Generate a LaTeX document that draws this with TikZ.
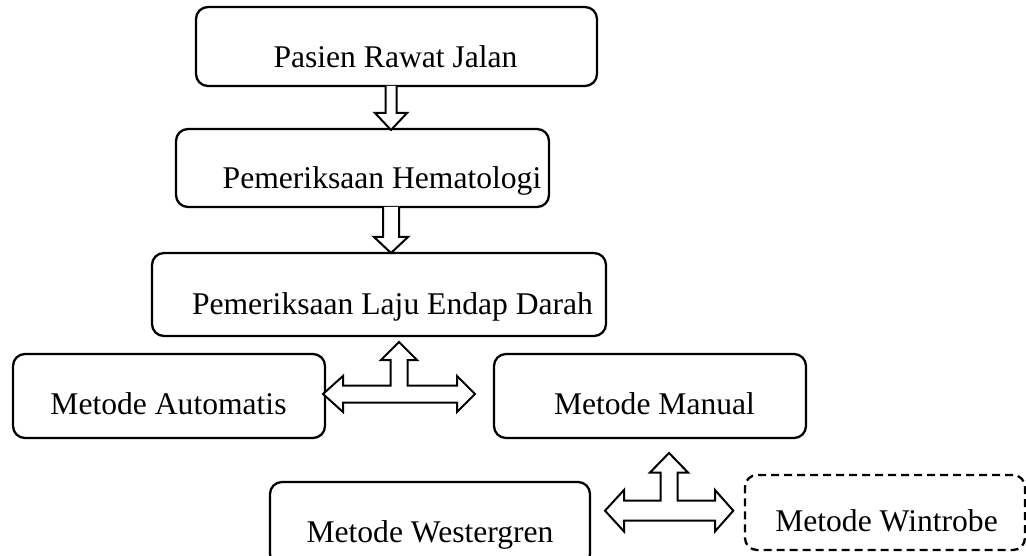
\documentclass[tikz,border=0pt]{standalone}
\usepackage{fontspec}
\setmainfont{Liberation Serif}
\usetikzlibrary{calc}
\begin{document}
\begin{tikzpicture}[x=1pt,y=-1pt,
  box/.style={draw=black,line width=2.3pt,rounded corners=12pt,inner sep=0pt},
  dbox/.style={box,dash pattern=on 8pt off 5pt},
  lbl/.style={anchor=base,inner sep=0pt,font=\fontsize{31.6}{38}\selectfont},
  blockarrow/.style={draw=black,fill=white,line width=2pt,line join=miter}]
\clip (0,0) rectangle (1026,556);
% boxes
\node[box,minimum width=401pt,minimum height=79pt] (b1) at (396.5,46.5) {};
\node[box,minimum width=373pt,minimum height=78pt] (b2) at (362.5,168) {};
\node[box,minimum width=454pt,minimum height=83pt] (b3) at (379,294.5) {};
\node[box,minimum width=312pt,minimum height=84pt] (b4) at (169,396) {};
\node[box,minimum width=312pt,minimum height=84pt] (b5) at (650,396) {};
\node[box,minimum width=320pt,minimum height=84pt] (b6) at (430,524) {};
\node[dbox,minimum width=280pt,minimum height=75pt] (b7) at (885,512.5) {};
% labels
\node[lbl] (t1) at (395.5,68) {Pasien Rawat Jalan};
\node[lbl] (t2) at (382,189) {Pemeriksaan Hematologi};
\node[lbl] (t3) at (392.5,314) {Pemeriksaan Laju Endap Darah};
\node[lbl] (t4) at (168.5,414) {Metode Automatis};
\node[lbl] (t5) at (654.5,414) {Metode Manual};
\node[lbl] (t6) at (430,542) {Metode Westergren};
\node[lbl] (t7) at (886.5,531) {Metode Wintrobe};
% down arrow 1 : b1 -> b2
\coordinate (a1) at (391,86);
\draw[blockarrow] ($(a1)+(-5.5,0)$) -- ($(a1)+(-5.5,27)$) -- ($(a1)+(-16,27)$) -- ($(a1)+(0,44)$)
  -- ($(a1)+(16,27)$) -- ($(a1)+(5.5,27)$) -- ($(a1)+(5.5,0)$);
% down arrow 2 : b2 -> b3
\coordinate (a2) at (391,207);
\draw[blockarrow] ($(a2)+(-8,0)$) -- ($(a2)+(-8,30)$) -- ($(a2)+(-17,30)$) -- ($(a2)+(0,46)$)
  -- ($(a2)+(17,30)$) -- ($(a2)+(8,30)$) -- ($(a2)+(8,0)$);
% three-way arrow 1 : b3 / b4 / b5
\coordinate (j1) at (399,394);
\draw[blockarrow] ($(j1)+(0,-52)$) -- ($(j1)+(18,-34)$) -- ($(j1)+(8.5,-34)$)
  -- ($(j1)+(8.5,-8.5)$) -- ($(j1)+(58,-8.5)$) -- ($(j1)+(58,-18)$)
  -- ($(j1)+(76,0)$) -- ($(j1)+(58,18)$) -- ($(j1)+(58,8.5)$)
  -- ($(j1)+(-56,8.5)$) -- ($(j1)+(-56,18)$) -- ($(j1)+(-76,0)$)
  -- ($(j1)+(-56,-18)$) -- ($(j1)+(-56,-8.5)$) -- ($(j1)+(-8.5,-8.5)$)
  -- ($(j1)+(-8.5,-34)$) -- ($(j1)+(-18,-34)$) -- cycle;
% three-way arrow 2 : b5 / b6 / b7
\coordinate (j2) at (669,510.7);
\draw[blockarrow] ($(j2)+(0,-57.7)$) -- ($(j2)+(19,-38.2)$) -- ($(j2)+(8.7,-38.2)$)
  -- ($(j2)+(8.7,-10)$) -- ($(j2)+(46,-10)$) -- ($(j2)+(46,-20.7)$)
  -- ($(j2)+(64.3,0)$) -- ($(j2)+(46,20.7)$) -- ($(j2)+(46,10)$)
  -- ($(j2)+(-45,10)$) -- ($(j2)+(-45,20.7)$) -- ($(j2)+(-64,0)$)
  -- ($(j2)+(-45,-20.7)$) -- ($(j2)+(-45,-10)$) -- ($(j2)+(-8.5,-10)$)
  -- ($(j2)+(-8.5,-38.2)$) -- ($(j2)+(-19,-38.2)$) -- cycle;
\end{tikzpicture}
\end{document}
